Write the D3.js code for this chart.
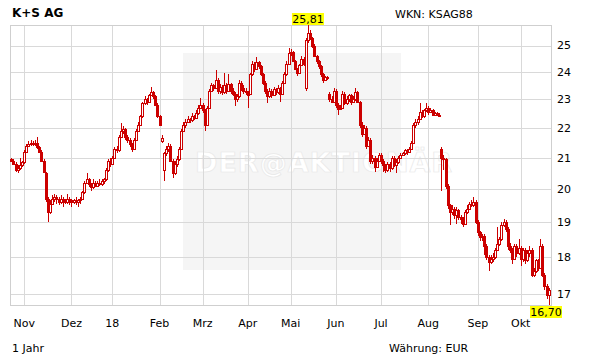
<!DOCTYPE html>
<html>
<head>
<meta charset="utf-8">
<script src="https://cdn.jsdelivr.net/npm/d3@7"></script>
<style>
body{margin:0;background:#fff;}
svg{display:block;font-family:"DejaVu Sans",Verdana,sans-serif;}
</style>
</head>
<body>
<div id="chart"></div>
<script>
// daily candles, K+S AG, late Okt 2017 - mid Okt 2018
var opens = [
20.95,20.9,20.8,20.6,20.65,20.75,20.85,21.2,21.4,21.45,
21.5,21.45,21.5,21.35,21.2,20.9,20.5,19.7,19.3,19.55,
19.7,19.75,19.7,19.6,19.7,19.65,19.6,19.7,19.65,19.6,
19.65,19.6,19.65,19.7,19.9,20.2,20.3,20.15,20.05,20.2,
20.1,20.2,20.15,20.25,20.3,20.6,20.9,20.8,21.0,21.3,
21.25,21.7,21.9,21.95,21.7,21.6,21.45,21.3,21.6,21.9,
22.1,22.4,22.85,23.0,22.9,23.15,23.25,23.1,22.8,22.4,
21.55,20.6,21.15,21.3,21.4,20.9,20.5,20.8,20.95,21.3,
21.9,22.1,22.2,22.3,22.25,22.4,22.35,22.5,22.7,22.8,
22.6,22.1,22.7,23.3,23.5,23.4,23.7,23.3,23.45,23.25,
23.5,23.3,23.55,23.3,23.2,23.0,23.1,23.6,23.4,23.3,
23.25,23.2,23.9,24.3,24.1,24.35,24.2,23.9,23.6,23.3,
23.1,23.3,23.15,23.35,23.25,23.4,23.2,23.6,23.9,24.3,
24.7,24.75,24.4,24.1,23.95,24.25,24.5,23.4,25.2,25.5,
25.3,25.0,24.6,24.4,24.2,23.9,23.7,23.8,23.2,23.0,
22.9,23.3,22.8,22.65,22.7,23.2,22.85,23.0,23.15,22.9,
23.0,23.25,22.9,22.1,21.8,22.0,21.4,21.6,20.9,21.0,
20.7,20.9,21.1,20.9,20.75,20.6,20.8,20.65,21.0,20.75,
20.85,21.0,21.1,21.15,21.25,21.2,21.3,21.5,22.1,22.2,
22.3,22.55,22.4,22.6,22.7,22.55,22.6,22.45,22.5,22.45,
21.3,21.0,20.95,20.1,19.5,19.3,19.4,19.2,19.35,19.15,
19.1,18.95,19.3,19.4,19.55,19.5,19.6,19.0,18.7,18.55,
18.6,18.3,18.0,17.85,17.95,18.0,18.2,18.35,18.5,18.9,
19.0,18.8,18.3,18.2,17.95,18.3,18.1,18.25,17.95,18.2,
17.9,18.1,18.2,17.5,17.6,17.9,17.7,18.3,17.5,17.2,16.95
];
var highs = [
21.0,20.95,20.85,20.75,21.0,20.9,21.25,21.45,21.55,21.6,
21.55,21.6,21.7,21.4,21.25,20.95,20.55,19.75,19.65,19.8,
19.85,19.8,19.75,19.8,19.75,19.7,19.85,19.75,19.7,19.7,
19.75,19.7,19.75,19.95,20.25,20.5,20.35,20.2,20.3,20.25,
20.25,20.3,20.3,20.35,20.65,20.95,21.0,21.05,21.35,21.4,
21.75,22.15,22.05,22.0,21.75,21.65,21.5,21.65,21.95,22.2,
22.45,22.9,23.1,23.05,23.2,23.45,23.3,23.15,22.85,22.45,
21.75,21.2,21.4,21.5,21.45,20.95,20.9,21.05,21.35,21.95,
22.2,22.3,22.4,22.35,22.5,22.45,22.6,22.8,23.05,22.85,
22.65,22.75,23.35,23.6,23.55,24.05,23.75,23.55,23.5,23.95,
23.6,23.9,23.6,23.4,23.25,23.2,23.7,23.65,23.5,23.4,
23.3,23.95,24.4,24.35,24.55,24.4,24.25,23.95,23.65,23.35,
23.4,23.35,23.45,23.4,23.5,23.45,23.65,24.0,24.4,24.9,
24.85,24.8,24.45,24.15,24.3,24.6,24.55,25.3,25.81,25.6,
25.35,25.05,24.65,24.45,24.25,23.95,23.85,23.85,23.25,23.1,
23.4,23.35,22.85,22.8,23.3,23.25,23.1,23.2,23.2,23.1,
23.4,23.3,22.95,22.2,22.1,22.05,21.7,21.65,21.1,21.05,
21.0,21.15,21.15,20.95,20.8,20.85,20.85,21.05,21.05,20.95,
21.05,21.15,21.2,21.3,21.3,21.35,21.55,22.15,22.3,22.4,
22.85,22.6,22.65,22.85,22.75,22.7,22.65,22.55,22.55,22.5,
21.35,21.1,21.0,20.15,19.55,19.5,19.45,19.45,19.4,19.2,
19.15,19.35,19.5,19.6,19.65,19.75,19.65,19.05,18.75,18.65,
18.65,18.35,18.05,18.05,18.1,18.25,18.85,18.55,19.0,19.1,
19.05,18.85,18.4,18.25,18.35,18.35,18.5,18.3,18.25,18.25,
18.2,18.3,18.25,17.7,17.95,17.95,18.5,18.35,17.55,17.25,17.15
];
var lows = [
20.85,20.75,20.55,20.5,20.6,20.7,20.8,21.15,21.35,21.4,
21.4,21.4,21.3,21.15,20.85,20.5,19.6,19.0,19.25,19.5,
19.6,19.55,19.5,19.55,19.45,19.55,19.55,19.5,19.45,19.55,
19.5,19.45,19.55,19.65,19.85,20.15,20.05,19.95,20.0,20.05,
20.05,20.1,20.1,20.15,20.25,20.55,20.7,20.75,20.95,21.15,
21.2,21.65,21.8,21.6,21.5,21.35,21.2,21.25,21.55,21.85,
22.05,22.35,22.8,22.8,22.85,23.1,23.0,22.75,22.35,22.05,
21.5,20.25,21.05,21.2,20.85,20.35,20.45,20.7,20.9,21.25,
21.85,22.0,22.15,22.15,22.2,22.25,22.3,22.45,22.65,22.5,
21.9,22.05,22.65,23.25,23.3,23.35,23.2,23.2,23.15,23.2,
23.2,23.25,23.2,23.1,22.75,22.9,23.05,23.3,23.2,23.15,
22.7,23.15,23.85,24.0,24.05,24.1,23.85,23.5,23.2,22.85,
23.05,23.05,23.1,23.15,23.2,22.9,23.15,23.55,23.85,24.25,
24.6,24.35,24.05,23.85,23.9,24.2,24.2,23.3,25.1,25.2,
24.9,24.55,24.3,24.1,23.8,23.6,23.65,23.7,22.9,22.85,
22.85,22.7,22.45,22.6,22.65,22.8,22.8,22.9,22.8,22.85,
22.95,22.85,22.0,21.7,21.75,21.3,21.35,20.8,20.8,20.55,
20.65,20.85,20.8,20.55,20.5,20.55,20.55,20.6,20.7,20.5,
20.8,20.95,21.05,21.1,21.1,21.15,21.25,21.45,22.0,22.1,
22.25,22.35,22.35,22.55,22.45,22.5,22.4,22.4,22.4,22.4,
19.95,20.6,20.0,19.4,18.9,19.2,19.1,18.95,19.05,18.95,
18.85,18.9,19.25,19.35,19.45,19.45,18.95,18.6,18.45,18.45,
18.05,17.9,17.6,17.8,17.85,17.95,18.15,18.3,18.45,18.85,
18.7,18.2,18.1,17.8,17.9,18.0,18.05,17.75,17.85,17.8,
17.85,18.0,17.45,17.45,17.55,17.6,17.65,17.45,17.1,16.85,16.70
];
var closes = [
20.9,20.8,20.6,20.65,20.75,20.85,21.2,21.4,21.45,21.5,
21.45,21.5,21.35,21.2,20.9,20.55,19.7,19.3,19.55,19.7,
19.75,19.7,19.6,19.7,19.65,19.6,19.7,19.65,19.6,19.65,
19.6,19.65,19.7,19.9,20.2,20.3,20.15,20.05,20.2,20.1,
20.2,20.15,20.25,20.3,20.6,20.9,20.8,21.0,21.3,21.25,
21.7,21.9,21.95,21.7,21.6,21.45,21.3,21.6,21.9,22.1,
22.4,22.85,23.0,22.9,23.15,23.25,23.1,22.8,22.4,22.1,
21.65,21.15,21.3,21.4,20.9,20.5,20.8,20.95,21.3,21.9,
22.1,22.2,22.3,22.25,22.4,22.35,22.5,22.7,22.8,22.6,
22.1,22.7,23.3,23.5,23.4,23.7,23.3,23.45,23.25,23.5,
23.3,23.55,23.3,23.2,23.0,23.1,23.6,23.4,23.3,23.25,
23.15,23.9,24.3,24.1,24.35,24.2,23.9,23.6,23.3,23.1,
23.3,23.15,23.35,23.25,23.4,23.2,23.6,23.9,24.3,24.7,
24.75,24.4,24.1,23.95,24.25,24.5,24.3,25.2,25.5,25.3,
25.0,24.6,24.4,24.2,23.9,23.7,23.8,23.75,23.0,22.9,
23.3,22.8,22.65,22.7,23.2,22.85,23.0,23.15,22.9,23.0,
23.25,22.9,22.1,21.8,22.0,21.4,21.6,20.9,21.0,20.7,
20.9,21.1,20.9,20.75,20.6,20.8,20.65,21.0,20.75,20.85,
21.0,21.1,21.15,21.25,21.2,21.3,21.5,22.1,22.2,22.3,
22.55,22.4,22.6,22.7,22.55,22.6,22.45,22.5,22.45,22.45,
21.0,20.95,20.1,19.5,19.3,19.4,19.2,19.35,19.15,19.1,
18.95,19.3,19.4,19.55,19.5,19.6,19.0,18.7,18.55,18.6,
18.3,18.0,17.85,17.95,18.0,18.2,18.35,18.5,18.9,19.0,
18.8,18.3,18.2,17.95,18.3,18.1,18.25,17.95,18.2,17.9,
18.1,18.2,17.5,17.6,17.9,17.7,18.3,17.5,17.2,16.95,17.1
];

// index of first trading day of each month
var monthStarts = [6,28,47,69,89,110,130,151,172,194,217,237];
var monthLabels = ["Nov","Dez","18","Feb","Mrz","Apr","Mai","Jun","Jul","Aug","Sep","Okt"];
var yTicks = [17,18,19,20,21,22,23,24,25];

(function(){
    var W = 611, H = 364;
    var pL = 10.5, pR = 551, pT = 25, pB = 305;
    var red = "#cc0000", gridColor = "#d9d9d9";

    function fmt(v){ return v.toFixed(2).replace(".", ","); }

    function drawChart(){
        var svg = d3.select("#chart").append("svg")
            .attr("width", W).attr("height", H);

        var n = closes.length;
        var x = d3.scaleLinear().domain([-0.5, n - 0.5]).range([10.2, 549.8]);
        var y = d3.scaleLog().domain([d3.min(lows), d3.max(highs)]).range([pB, pT]);

        // watermark box
        svg.append("rect").attr("x", 183).attr("y", 53).attr("width", 218).attr("height", 217)
            .attr("fill", "#f5f5f5");
        svg.append("text").attr("x", 195).attr("y", 172)
            .attr("font-size", 27).attr("font-weight", "bold").attr("letter-spacing", 1)
            .attr("fill", "#fff").attr("stroke", "#e8e8e8").attr("stroke-width", 0.7)
            .text("DER@AKTIONÄR");

        // grid
        var g = svg.append("g").attr("shape-rendering", "crispEdges");
        g.selectAll(".hg").data(yTicks).enter().append("line")
            .attr("x1", pL).attr("x2", pR)
            .attr("y1", function(d){ return Math.round(y(d)) + 0.5; })
            .attr("y2", function(d){ return Math.round(y(d)) + 0.5; })
            .attr("stroke", gridColor);
        g.selectAll(".vg").data(monthStarts).enter().append("line")
            .attr("x1", function(d){ return Math.round(x(d)) + 0.5; })
            .attr("x2", function(d){ return Math.round(x(d)) + 0.5; })
            .attr("y1", pT).attr("y2", pB)
            .attr("stroke", gridColor);
        g.append("rect").attr("x", pL).attr("y", pT + 0.5)
            .attr("width", pR - pL).attr("height", pB - pT)
            .attr("fill", "none").attr("stroke", "#cfcfcf");

        // candles
        var idx = d3.range(n);
        var cg = svg.append("g").attr("shape-rendering", "crispEdges");
        cg.selectAll(".wick").data(idx).enter().append("line")
            .attr("x1", function(i){ return Math.round(x(i)) + 0.5; })
            .attr("x2", function(i){ return Math.round(x(i)) + 0.5; })
            .attr("y1", function(i){ return Math.round(y(highs[i])); })
            .attr("y2", function(i){ return Math.round(y(lows[i])); })
            .attr("stroke", red);
        cg.selectAll(".body").data(idx).enter().append("rect")
            .attr("x", function(i){ return Math.round(x(i)) - 0.5; })
            .attr("width", 2)
            .attr("y", function(i){ return Math.round(y(Math.max(opens[i], closes[i]))) + 0.5; })
            .attr("height", function(i){
                var h = Math.round(y(Math.min(opens[i], closes[i]))) - Math.round(y(Math.max(opens[i], closes[i])));
                return Math.max(h, 1);
            })
            .attr("fill", function(i){ return closes[i] >= opens[i] ? "#fff" : red; })
            .attr("stroke", red);

        // y tick labels
        svg.selectAll(".yl").data(yTicks).enter().append("text")
            .attr("x", 557).attr("y", function(d){ return y(d); }).attr("dy", "0.36em")
            .attr("font-size", 11).attr("fill", "#000")
            .text(function(d){ return d; });

        // month labels
        svg.selectAll(".ml").data(monthStarts).enter().append("text")
            .attr("x", function(d){ return x(d); }).attr("y", 327)
            .attr("text-anchor", "middle").attr("font-size", 11).attr("fill", "#000")
            .text(function(d, i){ return monthLabels[i]; });

        // max / min labels
        var hi = d3.maxIndex(highs), lo = d3.minIndex(lows);
        var hx = x(hi) - 16;
        svg.append("rect").attr("x", hx).attr("y", 13).attr("width", 32).attr("height", 12).attr("fill", "#ffff00");
        svg.append("text").attr("x", hx + 16).attr("y", 23).attr("text-anchor", "middle")
            .attr("font-size", 11).text(fmt(highs[hi]));
        var lx = Math.min(x(lo) - 16, 562 - 32);
        svg.append("rect").attr("x", lx).attr("y", 306).attr("width", 32).attr("height", 12).attr("fill", "#ffff00");
        svg.append("text").attr("x", lx + 16).attr("y", 316).attr("text-anchor", "middle")
            .attr("font-size", 11).text(fmt(lows[lo]));

        // header / footer
        svg.append("text").attr("x", 12).attr("y", 17).attr("font-size", 12).attr("font-weight", "bold").text("K+S AG");
        svg.append("text").attr("x", 395).attr("y", 18).attr("font-size", 11).text("WKN: KSAG88");
        svg.append("text").attr("x", 12).attr("y", 352).attr("font-size", 11).text("1 Jahr");
        svg.append("text").attr("x", 389).attr("y", 352).attr("font-size", 11).text("Währung: EUR");
    }

    drawChart();
})();
</script>
</body>
</html>
